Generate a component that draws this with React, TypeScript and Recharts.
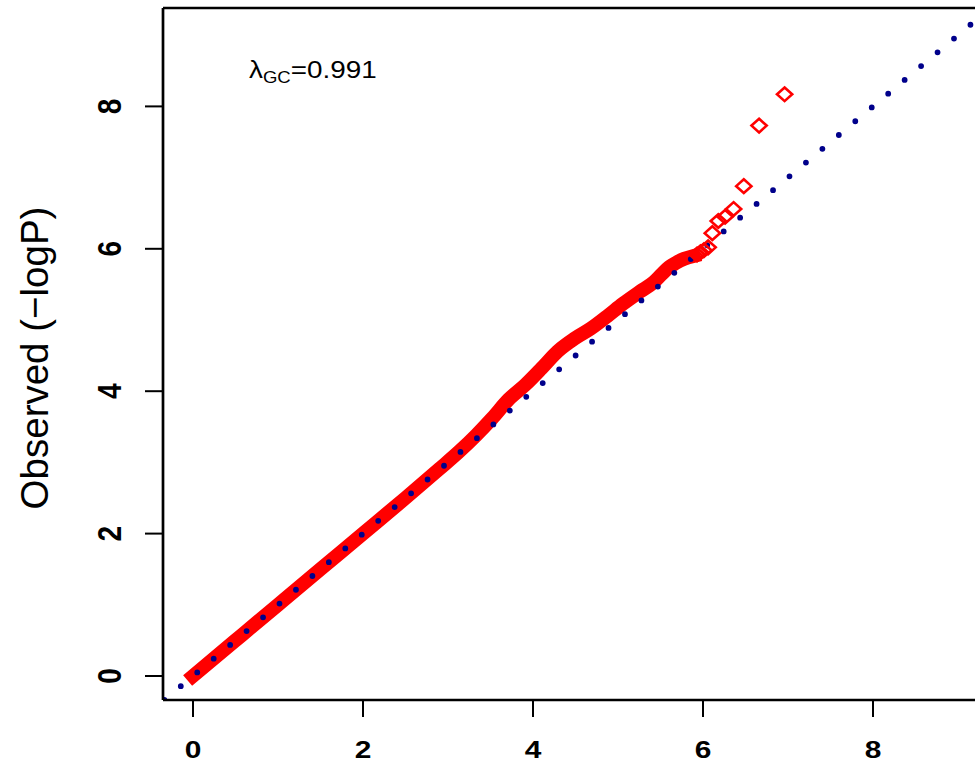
import { ComposedChart, Line, Scatter, XAxis, YAxis, ReferenceLine } from "recharts";

// observed vs expected -log10(P), dense part of the cloud (drawn as a band)
const bandExpected = [0, 0.5, 1.0, 1.5, 2.0, 2.5, 2.9, 3.13, 3.33, 3.52, 3.71, 3.91, 4.1, 4.29, 4.49, 4.68, 4.87, 5.06, 5.26, 5.42, 5.52, 5.6, 5.68, 5.78, 5.89];
const bandObserved = [0, 0.5, 1.0, 1.5, 2.0, 2.5, 2.91, 3.15, 3.38, 3.62, 3.88, 4.09, 4.32, 4.56, 4.74, 4.88, 5.05, 5.23, 5.4, 5.53, 5.65, 5.74, 5.8, 5.86, 5.9];

// top-ranked SNPs, drawn one by one
const tailExpected = [5.93, 5.97, 6.01, 6.06, 6.11, 6.18, 6.26, 6.36, 6.48, 6.66, 6.96];
const tailObserved = [5.92, 5.95, 5.98, 6.02, 6.22, 6.39, 6.45, 6.56, 6.88, 7.73, 8.17];

// y = x reference
const diagX = [-0.3371, 9.7];

const xTicks = [0, 2, 4, 6, 8];
const yTicks = [0, 2, 4, 6, 8];
const lambdaGC = "0.991";

const X_DOMAIN: [number, number] = [-0.3529, 9.6];
const Y_DOMAIN: [number, number] = [-0.3371, 9.382];

const band = bandExpected.map((x, i) => ({ x, y: bandObserved[i] }));
const tail = tailExpected.map((x, i) => ({ x, y: tailObserved[i] }));
const diag = diagX.map((x) => ({ x, y: x }));

const FONT = "'Liberation Sans', Arial, Helvetica, sans-serif";

function Diamond(props: any) {
  const { cx, cy } = props;
  if (cx == null || cy == null) return null;
  const w = 7.6;
  const h = 6.8;
  return (
    <polygon
      points={`${cx},${cy - h} ${cx + w},${cy} ${cx},${cy + h} ${cx - w},${cy}`}
      fill="none"
      stroke="#ff0000"
      strokeWidth={2.6}
      strokeLinejoin="miter"
    />
  );
}

function XTick({ x, y, payload }: any) {
  return (
    <text
      transform={`translate(${x},${y + 39}) scale(1.3,1)`}
      textAnchor="middle"
      fontFamily={FONT}
      fontWeight="bold"
      fontSize={23}
      fill="#000"
    >
      {payload.value}
    </text>
  );
}

function YTick({ x, y, payload }: any) {
  return (
    <text
      transform={`translate(${x - 22.5},${y}) scale(1.2,1) rotate(-90)`}
      textAnchor="middle"
      fontFamily={FONT}
      fontWeight="bold"
      fontSize={28}
      fill="#000"
    >
      {payload.value}
    </text>
  );
}

export default function App() {
  return (
    <div
      style={{
        position: "fixed",
        left: 0,
        top: 0,
        width: 975,
        height: 767,
        overflow: "hidden",
        background: "#fff",
      }}
    >
      <ComposedChart width={1020} height={767} margin={{ top: 8, right: 11, bottom: 0, left: 0 }}>
        <XAxis
          type="number"
          dataKey="x"
          domain={X_DOMAIN}
          allowDataOverflow
          ticks={xTicks}
          height={67}
          tickSize={17}
          tick={<XTick />}
          axisLine={{ stroke: "#000", strokeWidth: 2.5 }}
          tickLine={{ stroke: "#000", strokeWidth: 2 }}
        />
        <YAxis
          type="number"
          dataKey="y"
          domain={Y_DOMAIN}
          allowDataOverflow
          ticks={yTicks}
          width={163}
          tickSize={18}
          tick={<YTick />}
          axisLine={{ stroke: "#000", strokeWidth: 2.7 }}
          tickLine={{ stroke: "#000", strokeWidth: 2 }}
        />
        <ReferenceLine y={Y_DOMAIN[1]} stroke="#000" strokeWidth={2.5} />

        {/* dense part of the observed quantiles */}
        <Line
          data={band}
          dataKey="y"
          type="monotone"
          stroke="#ff0000"
          strokeWidth={14}
          strokeLinecap="square"
          strokeLinejoin="round"
          dot={false}
          activeDot={false}
          isAnimationActive={false}
        />
        <Scatter data={tail} dataKey="y" shape={<Diamond />} isAnimationActive={false} />

        {/* expected line, dotted */}
        <Line
          data={diag}
          dataKey="y"
          type="linear"
          stroke="#00008b"
          strokeWidth={5.8}
          strokeDasharray="0 21.46"
          strokeLinecap="round"
          dot={false}
          activeDot={false}
          isAnimationActive={false}
        />

        <text transform="translate(48,358) rotate(-90)" textAnchor="middle" fontFamily={FONT} fontSize={38.5} fill="#000">
          Observed (−logP)
        </text>
        <text transform="translate(249,78) scale(1.16,1)" fontFamily={FONT} fontSize={24} fill="#000">
          λ
          <tspan fontSize={16} dy={5}>
            GC
          </tspan>
          <tspan dy={-5}>={lambdaGC}</tspan>
        </text>
      </ComposedChart>
    </div>
  );
}
